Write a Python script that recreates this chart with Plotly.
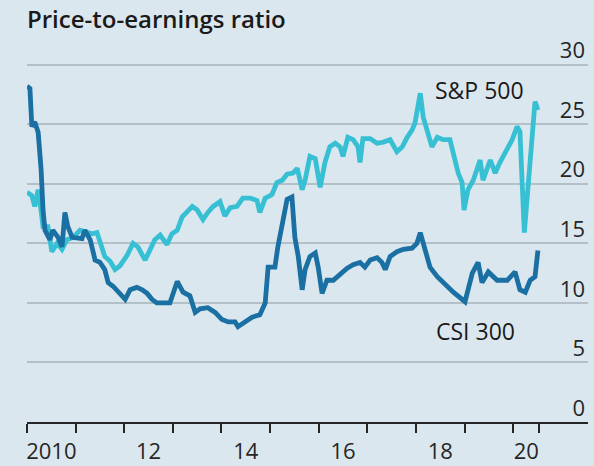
import plotly.graph_objects as go

# decimal years
csi_x = [2010.00, 2010.06, 2010.10, 2010.16, 2010.23, 2010.29, 2010.33, 2010.37, 2010.47, 2010.53,
         2010.64, 2010.72, 2010.78, 2010.84, 2010.93, 2011.03, 2011.13, 2011.19, 2011.30, 2011.40,
         2011.50, 2011.60, 2011.67, 2011.77, 2011.91, 2012.02, 2012.12, 2012.26, 2012.37, 2012.47,
         2012.57, 2012.67, 2012.80, 2012.94, 2013.09, 2013.21, 2013.35, 2013.46, 2013.56, 2013.72,
         2013.87, 2014.01, 2014.14, 2014.28, 2014.34, 2014.49, 2014.63, 2014.79, 2014.90, 2014.96,
         2015.10, 2015.16, 2015.25, 2015.35, 2015.45, 2015.51, 2015.58, 2015.66, 2015.72, 2015.82,
         2015.93, 2015.99, 2016.07, 2016.17, 2016.30, 2016.48, 2016.58, 2016.71, 2016.85, 2016.95,
         2017.06, 2017.20, 2017.30, 2017.37, 2017.47, 2017.61, 2017.74, 2017.92, 2018.02, 2018.09,
         2018.19, 2018.29, 2018.44, 2018.56, 2018.77, 2019.01, 2019.16, 2019.28, 2019.36, 2019.49,
         2019.67, 2019.88, 2020.04, 2020.14, 2020.25, 2020.35, 2020.45, 2020.51]
csi_pe = [28.2, 28.0, 24.8, 25.2, 24.3, 21.2, 17.8, 16.1, 15.3, 16.1,
          15.5, 14.7, 17.6, 16.4, 15.5, 15.5, 15.4, 16.1, 15.3, 13.6,
          13.4, 12.8, 11.7, 11.4, 10.8, 10.3, 11.1, 11.3, 11.1, 10.8,
          10.3, 10.0, 10.0, 10.0, 11.8, 10.9, 10.6, 9.2, 9.5, 9.6,
          9.2, 8.6, 8.4, 8.4, 8.0, 8.4, 8.8, 9.0, 10.0, 13.0,
          13.0, 14.7, 16.4, 18.7, 18.9, 15.5, 13.9, 11.1, 12.8, 13.9,
          14.2, 13.0, 10.8, 11.9, 11.9, 12.5, 12.9, 13.2, 13.4, 13.0,
          13.6, 13.8, 13.4, 12.8, 13.9, 14.3, 14.5, 14.6, 15.0, 15.9,
          14.4, 13.0, 12.2, 11.7, 10.9, 10.1, 12.5, 13.4, 11.7, 12.6,
          11.9, 11.9, 12.6, 11.1, 10.9, 11.9, 12.2, 14.4]

sp_x = [2010.00, 2010.10, 2010.16, 2010.23, 2010.27, 2010.33, 2010.43, 2010.51, 2010.62, 2010.72,
        2010.82, 2010.95, 2011.09, 2011.23, 2011.34, 2011.44, 2011.60, 2011.71, 2011.81, 2011.91,
        2012.06, 2012.18, 2012.28, 2012.43, 2012.53, 2012.63, 2012.74, 2012.88, 2012.98, 2013.09,
        2013.19, 2013.31, 2013.40, 2013.50, 2013.62, 2013.72, 2013.83, 2013.97, 2014.07, 2014.18,
        2014.32, 2014.44, 2014.59, 2014.73, 2014.79, 2014.90, 2015.04, 2015.14, 2015.25, 2015.35,
        2015.47, 2015.56, 2015.66, 2015.72, 2015.82, 2015.93, 2016.03, 2016.13, 2016.23, 2016.34,
        2016.44, 2016.50, 2016.60, 2016.71, 2016.81, 2016.85, 2016.91, 2017.06, 2017.20, 2017.33,
        2017.47, 2017.61, 2017.72, 2017.82, 2017.92, 2017.98, 2018.05, 2018.09, 2018.15, 2018.23,
        2018.33, 2018.44, 2018.56, 2018.70, 2018.77, 2018.87, 2018.95, 2018.99, 2019.07, 2019.18,
        2019.32, 2019.38, 2019.53, 2019.63, 2019.73, 2019.88, 2019.98, 2020.08, 2020.14, 2020.23,
        2020.31, 2020.39, 2020.45, 2020.51]
sp_pe = [19.3, 19.0, 18.1, 19.5, 18.4, 16.4, 16.4, 14.3, 15.0, 14.5,
         15.3, 15.5, 16.1, 15.9, 15.8, 15.9, 13.9, 13.5, 12.8, 13.1,
         14.0, 15.0, 14.7, 13.6, 14.5, 15.3, 15.7, 14.9, 15.8, 16.1,
         17.2, 17.8, 18.1, 17.8, 17.0, 17.6, 18.1, 18.5, 17.3, 18.0,
         18.1, 18.8, 18.8, 18.6, 17.6, 18.8, 19.1, 20.1, 20.3, 20.8,
         20.9, 21.3, 19.5, 20.3, 22.3, 22.1, 19.7, 21.8, 23.1, 23.4,
         23.1, 22.3, 23.9, 23.7, 23.1, 21.8, 23.8, 23.8, 23.4, 23.5,
         23.7, 22.7, 23.1, 23.9, 24.5, 25.1, 27.1, 27.6, 25.6, 24.5,
         23.1, 23.9, 23.7, 23.7, 22.6, 20.9, 20.1, 17.8, 19.5, 20.3,
         22.0, 20.3, 22.0, 20.9, 21.8, 22.9, 23.7, 24.8, 24.4, 15.9,
         20.3, 24.5, 26.9, 26.2]

year_ticks = [2010, 2011, 2012, 2013, 2014, 2015, 2016, 2017, 2018, 2019, 2020, 2020.53]
label_pos = [2010.5, 2012.5, 2014.5, 2016.5, 2018.5, 2020.27]
label_text = ["2010", "12", "14", "16", "18", "20"]
y_ticks = [0, 5, 10, 15, 20, 25, 30]

FONT = "Open Sans"
bg = "#dbe7ee"

fig = go.Figure()
fig.add_trace(go.Scatter(x=sp_x, y=sp_pe, mode="lines", name="S&P 500",
                         line=dict(color="#37bfd4", width=4.8)))
fig.add_trace(go.Scatter(x=csi_x, y=csi_pe, mode="lines", name="CSI 300",
                         line=dict(color="#1a6fa3", width=4.8)))

# series labels
fig.add_annotation(x=2019.30, y=27.9, text="S&P 500", showarrow=False,
                   font=dict(family=FONT, size=23, color="#1a1a1a"))
fig.add_annotation(x=2019.22, y=7.65, text="CSI 300", showarrow=False,
                   font=dict(family=FONT, size=23, color="#1a1a1a"))

fig.update_layout(
    width=594, height=466,
    margin=dict(l=27, r=6, t=23, b=44),
    paper_bgcolor=bg, plot_bgcolor=bg,
    showlegend=False,
    title=dict(text="Price-to-earnings ratio", x=27 / 594, xanchor="left",
               y=0.975, yanchor="top",
               font=dict(family=FONT, size=24, color="#1a1a1a", weight=600)),
)
fig.update_xaxes(
    range=[2010, 2021.54], showgrid=False, zeroline=False, automargin=False,
    showline=True, linecolor="#262626", linewidth=1.8,
    tickmode="array", tickvals=label_pos, ticktext=label_text, ticks="",
    ticklabelstandoff=9,
    tickfont=dict(family=FONT, size=22, color="#262626"),
    minor=dict(tickmode="array", tickvals=year_ticks, ticks="outside",
               ticklen=9, tickwidth=1.8, tickcolor="#262626", showgrid=False),
)
fig.update_yaxes(
    range=[0, 33.5], side="right", tickmode="array", tickvals=y_ticks,
    automargin=False,
    showgrid=True, gridcolor="#b3c0c7", gridwidth=1.5, zeroline=False,
    showline=False, ticks="", ticklabelposition="inside", ticklabelshift=-14,
    tickfont=dict(family=FONT, size=22, color="#262626"),
)

fig.write_html("out.html", config={"displayModeBar": False},
               post_script="document.body.style.margin='0px';")
